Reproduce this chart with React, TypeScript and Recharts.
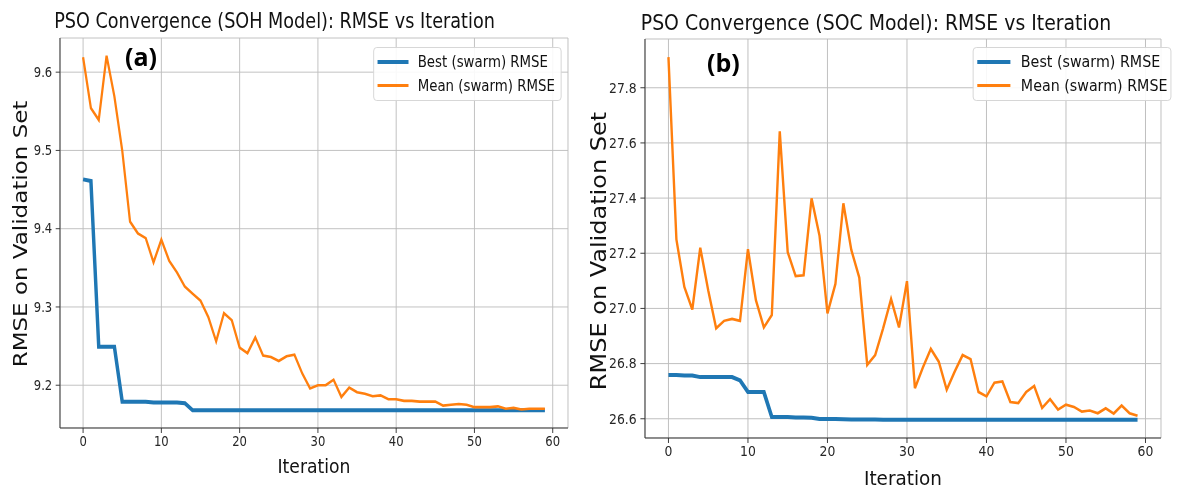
import React from 'react'
import { LineChart, Line, XAxis, YAxis, CartesianGrid, Legend, Label } from 'recharts'

const ITERATIONS = [
  0, 1, 2, 3, 4, 5, 6, 7, 8, 9, 10, 11, 12, 13, 14, 15, 16, 17, 18, 19,
  20, 21, 22, 23, 24, 25, 26, 27, 28, 29, 30, 31, 32, 33, 34, 35, 36, 37, 38, 39,
  40, 41, 42, 43, 44, 45, 46, 47, 48, 49, 50, 51, 52, 53, 54, 55, 56, 57, 58, 59,
]

const X_TICKS = [0, 10, 20, 30, 40, 50, 60]

// (a) SOH model
const SOH_BEST = [
  9.463, 9.461, 9.249, 9.249, 9.249, 9.179, 9.179, 9.179, 9.179, 9.178,
  9.178, 9.178, 9.178, 9.177, 9.168, 9.168, 9.168, 9.168, 9.168, 9.168,
  9.168, 9.168, 9.168, 9.168, 9.168, 9.168, 9.168, 9.168, 9.168, 9.168,
  9.168, 9.168, 9.168, 9.168, 9.168, 9.168, 9.168, 9.168, 9.168, 9.168,
  9.168, 9.168, 9.168, 9.168, 9.168, 9.168, 9.168, 9.168, 9.168, 9.168,
  9.168, 9.168, 9.168, 9.168, 9.168, 9.168, 9.168, 9.168, 9.168, 9.168,
]
const SOH_MEAN = [
  9.619, 9.554, 9.539, 9.621, 9.569, 9.5, 9.409, 9.394, 9.388, 9.357,
  9.386, 9.359, 9.344, 9.326, 9.317, 9.308, 9.287, 9.256, 9.292, 9.283,
  9.248, 9.241, 9.261, 9.238, 9.236, 9.231, 9.237, 9.239, 9.215, 9.196,
  9.2, 9.2, 9.207, 9.185, 9.197, 9.191, 9.189, 9.186, 9.187, 9.182,
  9.182, 9.18, 9.18, 9.179, 9.179, 9.179, 9.174, 9.175, 9.176, 9.175,
  9.172, 9.172, 9.172, 9.173, 9.17, 9.171, 9.169, 9.17, 9.17, 9.17,
]
const SOH_Y_TICKS = [9.2, 9.3, 9.4, 9.5, 9.6]

// (b) SOC model
const SOC_BEST = [
  26.759, 26.759, 26.757, 26.757, 26.751, 26.751, 26.751, 26.751, 26.751, 26.739,
  26.697, 26.697, 26.697, 26.606, 26.606, 26.606, 26.605, 26.605, 26.604, 26.599,
  26.599, 26.599, 26.598, 26.597, 26.597, 26.597, 26.597, 26.596, 26.596, 26.596,
  26.596, 26.596, 26.596, 26.596, 26.596, 26.596, 26.596, 26.596, 26.596, 26.596,
  26.596, 26.596, 26.596, 26.596, 26.596, 26.596, 26.596, 26.596, 26.596, 26.596,
  26.596, 26.596, 26.596, 26.596, 26.596, 26.596, 26.596, 26.596, 26.596, 26.596,
]
const SOC_MEAN = [
  27.911, 27.25, 27.078, 26.996, 27.22, 27.066, 26.928, 26.955, 26.962, 26.955,
  27.215, 27.03, 26.931, 26.976, 27.642, 27.204, 27.117, 27.12, 27.399, 27.264,
  26.982, 27.089, 27.381, 27.212, 27.112, 26.795, 26.831, 26.928, 27.034, 26.931,
  27.099, 26.711, 26.786, 26.853, 26.807, 26.705, 26.771, 26.831, 26.816, 26.697,
  26.681, 26.731, 26.735, 26.661, 26.657, 26.697, 26.719, 26.639, 26.671, 26.633,
  26.651, 26.643, 26.626, 26.63, 26.62, 26.638, 26.619, 26.648, 26.62, 26.611,
]
const SOC_Y_TICKS = [26.6, 26.8, 27.0, 27.2, 27.4, 27.6, 27.8]

const BLUE = '#1f77b4'
const ORANGE = '#ff7f0e'
const FONT = '"DejaVu Sans", sans-serif'
const SPINE = '#333'

// matplotlib style 5% padding around the data range
const pad = (lo: number, hi: number): [number, number] => {
  const m = (hi - lo) * 0.05
  return [lo - m, hi + m]
}

const buildRows = (best: number[], mean: number[]) =>
  ITERATIONS.map((it, i) => ({ iteration: it, best: best[i], mean: mean[i] }))

const legendContent = (boxW: number) => () => (
  <div
    style={{
      width: boxW,
      height: 54,
      boxSizing: 'border-box',
      border: '1px solid #d4d4d4',
      borderRadius: 4,
      background: 'rgba(255,255,255,0.9)',
      fontFamily: FONT,
      fontSize: 15.5,
      color: '#111',
      position: 'relative',
    }}
  >
    {[
      { name: 'Best (swarm) RMSE', color: BLUE, w: 4, top: 14 },
      { name: 'Mean (swarm) RMSE', color: ORANGE, w: 2.5, top: 37.5 },
    ].map((s) => (
      <div key={s.name}>
        <span
          style={{
            position: 'absolute',
            left: 4,
            top: s.top - s.w / 2,
            width: 36,
            height: s.w,
            background: s.color,
          }}
        />
        <span
          style={{
            position: 'absolute',
            left: 51,
            top: s.top - 10,
            lineHeight: '20px',
            whiteSpace: 'nowrap',
          }}
        >
          {s.name}
        </span>
      </div>
    ))}
  </div>
)

interface PanelProps {
  title: string
  best: number[]
  mean: number[]
  yTicks: number[]
  screenLeft: number
  screenWidth: number
  sx: number
  plotLeft: number
  plotRight: number
  plotTop: number
  plotBottom: number
  titleCenter: number
  titleTop: number
  legendLeft: number
  legendTop: number
  legendWidth: number
  yLabelX: number
  yLabelY: number
  yLabelSize: number
  xLabelY: number
}

function Panel(p: PanelProps) {
  const rows = buildRows(p.best, p.mean)
  const W = p.screenWidth / p.sx
  const H = 490
  const yAxisW = p.plotLeft / p.sx
  const marginRight = W - p.plotRight / p.sx
  const xAxisH = 55
  const marginBottom = H - p.plotBottom - xAxisH
  const all = [...p.best, ...p.mean]
  const yDomain = pad(Math.min(...all), Math.max(...all))
  const xDomain = pad(ITERATIONS[0], ITERATIONS[ITERATIONS.length - 1])
  const tickStyle = { fontSize: 13.5, fill: '#262626', fontFamily: FONT }

  return (
    <div
      style={{
        position: 'absolute',
        left: p.screenLeft,
        top: 0,
        width: W,
        height: H,
        transform: `scaleX(${p.sx})`,
        transformOrigin: '0 0',
      }}
    >
      <div
        style={{
          position: 'absolute',
          left: p.titleCenter / p.sx - 400,
          width: 800,
          top: p.titleTop,
          textAlign: 'center',
          fontFamily: FONT,
          fontSize: 20.5,
          lineHeight: '24px',
          color: '#111',
          whiteSpace: 'nowrap',
        }}
      >
        {p.title}
      </div>
      <LineChart
        width={W}
        height={H}
        data={rows}
        margin={{ top: p.plotTop, right: marginRight, left: 0, bottom: marginBottom }}
      >
        <CartesianGrid stroke="#bdbdbd" strokeWidth={1} />
        <XAxis
          dataKey="iteration"
          type="number"
          domain={xDomain}
          ticks={X_TICKS}
          interval={0}
          allowDataOverflow
          height={xAxisH}
          tick={tickStyle}
          tickSize={5}
          tickMargin={3}
          stroke={SPINE}
        >
          <Label
            content={() => (
              <text
                x={(yAxisW + W - marginRight) / 2}
                y={p.xLabelY}
                textAnchor="middle"
                fontFamily={FONT}
                fontSize={20}
                fill="#111"
              >
                Iteration
              </text>
            )}
          />
        </XAxis>
        <XAxis
          xAxisId="top"
          orientation="top"
          dataKey="iteration"
          type="number"
          domain={xDomain}
          allowDataOverflow
          height={0}
          tick={false}
          tickLine={false}
          stroke={SPINE}
        />
        <YAxis
          type="number"
          domain={yDomain}
          ticks={p.yTicks}
          interval={0}
          allowDataOverflow
          width={yAxisW}
          tick={tickStyle}
          tickSize={5}
          tickMargin={4}
          tickFormatter={(v: number) => v.toFixed(1)}
          stroke={SPINE}
        >
          <Label
            content={() => {
              const cx = p.yLabelX / p.sx
              return (
                <text
                  x={cx}
                  y={p.yLabelY}
                  transform={`rotate(-90 ${cx} ${p.yLabelY})`}
                  textAnchor="middle"
                  dominantBaseline="central"
                  fontFamily={FONT}
                  fontSize={p.yLabelSize}
                  fill="#111"
                >
                  RMSE on Validation Set
                </text>
              )
            }}
          />
        </YAxis>
        <YAxis
          yAxisId="right"
          orientation="right"
          type="number"
          domain={yDomain}
          allowDataOverflow
          width={0}
          tick={false}
          tickLine={false}
          stroke={SPINE}
        />
        <Legend
          layout="vertical"
          align="center"
          verticalAlign="middle"
          wrapperStyle={{ left: p.legendLeft / p.sx, top: p.legendTop, width: p.legendWidth / p.sx }}
          content={legendContent(p.legendWidth / p.sx)}
        />
        <Line
          type="linear"
          dataKey="best"
          name="Best (swarm) RMSE"
          stroke={BLUE}
          strokeWidth={4}
          dot={false}
          activeDot={false}
          isAnimationActive={false}
        />
        <Line
          type="linear"
          dataKey="mean"
          name="Mean (swarm) RMSE"
          stroke={ORANGE}
          strokeWidth={2.6}
          dot={false}
          activeDot={false}
          isAnimationActive={false}
        />
      </LineChart>
    </div>
  )
}

export default function App() {
  return (
    <div
      style={{
        position: 'absolute',
        left: 0,
        top: 0,
        width: 1186,
        height: 490,
        background: '#fff',
        overflow: 'hidden',
      }}
    >
      <Panel
        title="PSO Convergence (SOH Model): RMSE vs Iteration"
        best={SOH_BEST}
        mean={SOH_MEAN}
        yTicks={SOH_Y_TICKS}
        screenLeft={0}
        screenWidth={578}
        sx={0.86}
        plotLeft={60}
        plotRight={568}
        plotTop={38}
        plotBottom={428}
        titleCenter={274.5}
        titleTop={9}
        legendLeft={373}
        legendTop={47}
        legendWidth={189}
        yLabelX={20}
        yLabelY={234}
        yLabelSize={23}
        xLabelY={473}
      />
      <Panel
        title="PSO Convergence (SOC Model): RMSE vs Iteration"
        best={SOC_BEST}
        mean={SOC_MEAN}
        yTicks={SOC_Y_TICKS}
        screenLeft={578}
        screenWidth={608}
        sx={0.92}
        plotLeft={67}
        plotRight={583}
        plotTop={39}
        plotBottom={438}
        titleCenter={298}
        titleTop={11}
        legendLeft={395}
        legendTop={47}
        legendWidth={198}
        yLabelX={20}
        yLabelY={251}
        yLabelSize={24}
        xLabelY={485}
      />
      <svg
        width={1186}
        height={490}
        style={{ position: 'absolute', left: 0, top: 0, pointerEvents: 'none' }}
      >
        <text x={125} y={66} fontFamily='"Open Sans", sans-serif' fontWeight={700} fontSize={25} fill="#000">
          (a)
        </text>
        <text x={707} y={72} fontFamily='"Open Sans", sans-serif' fontWeight={700} fontSize={25} fill="#000">
          (b)
        </text>
      </svg>
    </div>
  )
}
